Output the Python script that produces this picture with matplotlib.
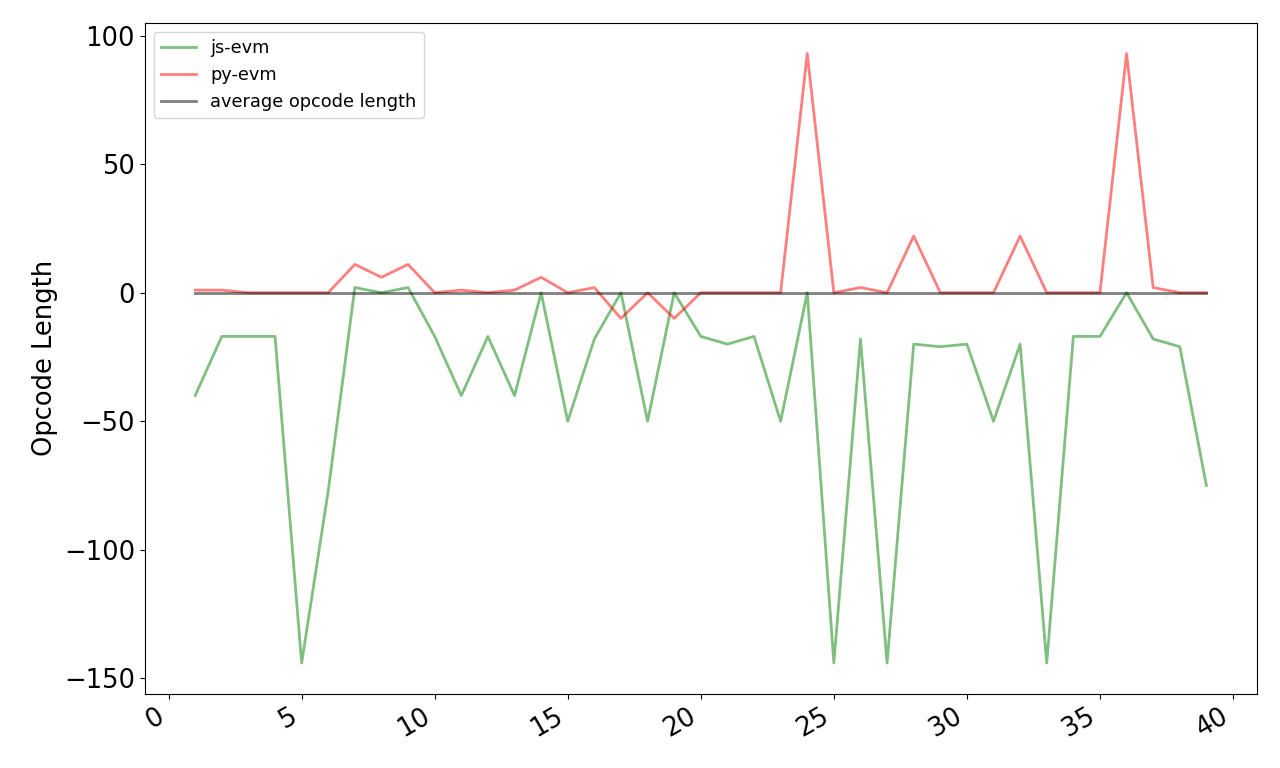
import numpy as np
import matplotlib
matplotlib.use("Agg")
import matplotlib.pyplot as plt

# opcode index
x = np.arange(1, 40)

js_evm = [-40, -17, -17, -17, -144, -77, 2, 0, 2, -17,
          -40, -17, -40, 0, -50, -18, 0, -50, 0, -17,
          -20, -17, -50, 0, -144, -18, -144, -20, -21, -20,
          -50, -20, -144, -17, -17, 0, -18, -21, -75]
py_evm = [1, 1, 0, 0, 0, 0, 11, 6, 11, 0,
          1, 0, 1, 6, 0, 2, -10, 0, -10, 0,
          0, 0, 0, 93, 0, 2, 0, 22, 0, 0,
          0, 22, 0, 0, 0, 93, 2, 0, 0]
avg_len = [0] * len(x)

fig = plt.figure(figsize=(12.8, 7.68), dpi=100)
ax = fig.add_axes([0.113, 0.097, 0.869, 0.873])
ax.plot(x, js_evm, color='g', alpha=0.5, linewidth=2, label="js-evm")
ax.plot(x, py_evm, color='r', alpha=0.5, linewidth=2, label="py-evm")
ax.plot(x, avg_len, color='k', alpha=0.5, linewidth=2, label="average opcode length")
ax.set_ylabel("Opcode Length", fontsize=18.5)
ax.tick_params(labelsize=18.5)
for lbl in ax.get_xticklabels():
    lbl.set_rotation(30)
    lbl.set_ha('right')
ax.legend(loc='upper left', fontsize=12.8)
fig.savefig("out.png")
